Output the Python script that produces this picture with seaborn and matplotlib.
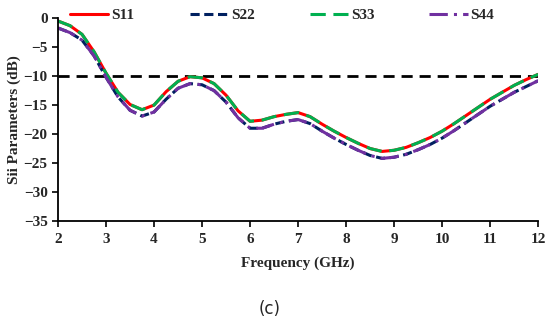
import matplotlib
matplotlib.use('Agg')
import matplotlib.pyplot as plt
import seaborn as sns
import pandas as pd

# frequency grid (GHz) and the read-off S parameters (dB)
freq = [2.0, 2.25, 2.5, 2.75, 3.0, 3.25, 3.5, 3.75, 4.0, 4.25, 4.5, 4.75, 5.0, 5.25,
        5.5, 5.75, 6.0, 6.25, 6.5, 6.75, 7.0, 7.25, 7.5, 7.75, 8.0, 8.25, 8.5, 8.75,
        9.0, 9.25, 9.5, 9.75, 10.0, 10.25, 10.5, 10.75, 11.0, 11.25, 11.5, 11.75, 12.0]

s11 = [-0.5, -1.3, -2.8, -5.8, -9.5, -12.8, -14.9, -15.8, -15.0, -12.7, -10.9, -10.1, -10.3, -11.3,
       -13.3, -16.0, -17.8, -17.6, -17.0, -16.6, -16.3, -17.0, -18.3, -19.5, -20.6, -21.6, -22.5, -23.0,
       -22.8, -22.3, -21.5, -20.6, -19.5, -18.2, -16.8, -15.4, -14.0, -12.8, -11.6, -10.6, -9.7]

s22 = [-1.7, -2.5, -3.8, -6.5, -10.2, -13.6, -15.9, -16.9, -16.2, -14.0, -12.1, -11.3, -11.5, -12.5,
       -14.5, -17.2, -19.0, -19.0, -18.3, -17.8, -17.5, -18.2, -19.5, -20.7, -21.8, -22.8, -23.7, -24.2,
       -24.0, -23.5, -22.7, -21.8, -20.7, -19.4, -18.0, -16.6, -15.2, -14.0, -12.8, -11.8, -10.8]

s33 = list(s11)
s44 = list(s22)

labels = ['S11', 'S22', 'S33', 'S44']
colors = ['#ff0000', '#002060', '#00b050', '#7030a0']
dashes = ['-', (0, (3, 1.5)), (0, (5, 2.5)), (0, (6, 2, 1, 2))]

sns.set_style('ticks')
plt.rcParams['font.family'] = ['Liberation Serif', 'DejaVu Serif']
plt.rcParams['font.weight'] = 'bold'

fig = plt.figure(figsize=(5.5, 3.24), dpi=100)
ax = fig.add_axes([0.1055, 0.318, 0.873, 0.626])

for lab, vals, col, ls in zip(labels, [s11, s22, s33, s44], colors, dashes):
    df = pd.DataFrame({'f': freq, 'v': vals})
    sns.lineplot(data=df, x='f', y='v', ax=ax, color=col, lw=2.2, linestyle=ls,
                 label=lab, sort=False)

ax.axhline(-10, color='black', lw=2, linestyle=(0, (4, 2.5)), zorder=0.5)

ax.set_xlim(2, 12)
ax.set_ylim(-35, 0)
ax.set_xticks(range(2, 13))
ax.set_yticks(range(-35, 1, 5))
ax.tick_params(labelsize=11, length=4, width=1.2, color='black')
ax.tick_params(axis='x', pad=5)
for t in ax.get_xticklabels() + ax.get_yticklabels():
    t.set_fontweight('bold')
sns.despine(ax=ax)
for s in ['left', 'bottom']:
    ax.spines[s].set_linewidth(1.3)
    ax.spines[s].set_color('black')

ax.set_xlabel('Frequency (GHz)', fontsize=11, fontweight='bold', labelpad=7)
ax.set_ylabel('Sii Parameters (dB)', fontsize=11, fontweight='bold', labelpad=2)

leg = ax.legend(loc='upper center', bbox_to_anchor=(0.467, 1.115), ncol=4, frameon=False,
                handlelength=2.5, handletextpad=0.2, columnspacing=3.6,
                prop={'family': 'Liberation Serif', 'weight': 'bold', 'size': 11})

fig.text(0.49, 0.03, '(c)', fontsize=12, fontweight='normal', family='DejaVu Sans', ha='center')

fig.savefig('out.png', dpi=100)
